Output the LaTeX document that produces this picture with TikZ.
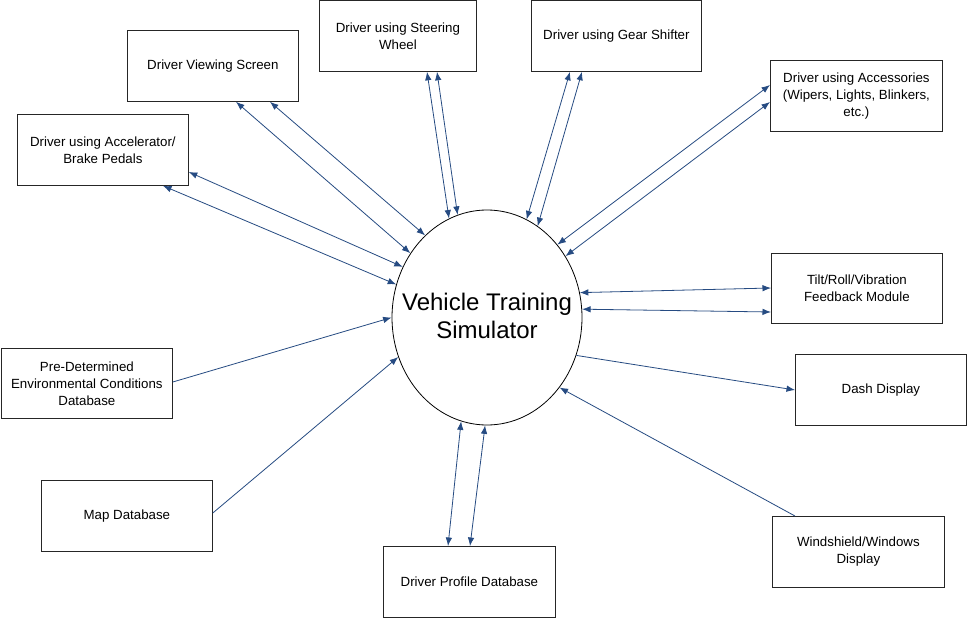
\documentclass[tikz,border=0pt]{standalone}
\usepackage{fontspec}
\setmainfont{Liberation Sans}
\usetikzlibrary{shapes.geometric,arrows.meta}
\definecolor{arr}{RGB}{38,75,130}
\begin{document}
\begin{tikzpicture}[x=1pt,y=-1pt,
  >={Latex[length=8.5pt,width=6.5pt]},
  box/.style={draw=black!85, line width=0.8pt, minimum width=171pt, minimum height=71pt,
    anchor=north west, align=center, inner sep=2pt,
    font=\fontsize{13.3}{17}\selectfont},
  link/.style={draw=arr, line width=0.8pt}]
\useasboundingbox (0,0) rectangle (967,618);
\fill[white] (0,0) rectangle (967,618);

\node[ellipse, draw, line width=0.8pt, minimum width=190pt, minimum height=215pt,
  inner sep=0pt] (sim) at (487,317.5) {};
\node[align=center, inner sep=0pt, font=\fontsize{24}{28}\selectfont] (simtext) at ([yshift=2pt]sim.center)
  {Vehicle Training\\Simulator};

\node[box] (vs) at (127,30) {Driver Viewing Screen};
\node[box, minimum width=157pt] (sw) at (319,0) {Driver using Steering\\Wheel};
\node[box, minimum width=170pt] (gs) at (531,0) {Driver using Gear Shifter};
\node[box, minimum width=172pt] (ac) at (770,60) {Driver using Accessories\\(Wipers, Lights, Blinkers,\\etc.)};
\node[box] (ap) at (17,114) {Driver using Accelerator/\\Brake Pedals};
\node[box, minimum height=70pt] (tr) at (771,253) {Tilt/Roll/Vibration\\Feedback Module};
\node[box] (dd) at (795,354) {Dash Display};
\node[box, minimum width=172pt] (ww) at (772,516) {Windshield/Windows\\Display};
\node[box, minimum width=172pt] (dp) at (383,546) {Driver Profile Database};
\node[box] (md) at (41,480) {Map Database};
\node[box, minimum height=70pt] (ed) at (1,348) {Pre-Determined\\Environmental Conditions\\Database};

% two-way links
\draw[link,<->] ([xshift=109pt]vs.south west) -- (sim.140.7);
\draw[link,<->] ([xshift=143pt]vs.south west) -- (sim.127.6);
\draw[link,<->] ([xshift=108pt]sw.south west) -- (sim.111.7);
\draw[link,<->] ([xshift=118pt]sw.south west) -- (sim.106.2);
\draw[link,<->] ([xshift=39pt]gs.south west) -- (sim.68.1);
\draw[link,<->] ([xshift=51pt]gs.south west) -- (sim.61.6);
\draw[link,<->] ([yshift=-25pt]ac.north west) -- (sim.46.4);
\draw[link,<->] ([yshift=-42pt]ac.north west) -- (sim.38.0);
\draw[link,<->] ([yshift=-58pt]ap.north east) -- (sim.149.9);
\draw[link,<->] ([xshift=146pt]ap.south west) -- (sim.160.9);
\draw[link,<->] ([yshift=-35pt]tr.north west) -- (sim.15.3);
\draw[link,<->] ([yshift=-59pt]tr.north west) -- (sim.5.2);
\draw[link,<->] ([xshift=65pt]dp.north west) -- (sim.256.9);
\draw[link,<->] ([xshift=87pt]dp.north west) -- (sim.269);

% one-way links
\draw[link,->] (sim.-23.7) -- ([yshift=-36pt]dd.north west);
\draw[link,->] ([xshift=23pt]ww.north west) -- (sim.-44.8);
\draw[link,->] ([yshift=-33pt]md.north east) -- (sim.204.3);
\draw[link,->] ([yshift=-34pt]ed.north east) -- (sim.180.9);
\end{tikzpicture}
\end{document}
